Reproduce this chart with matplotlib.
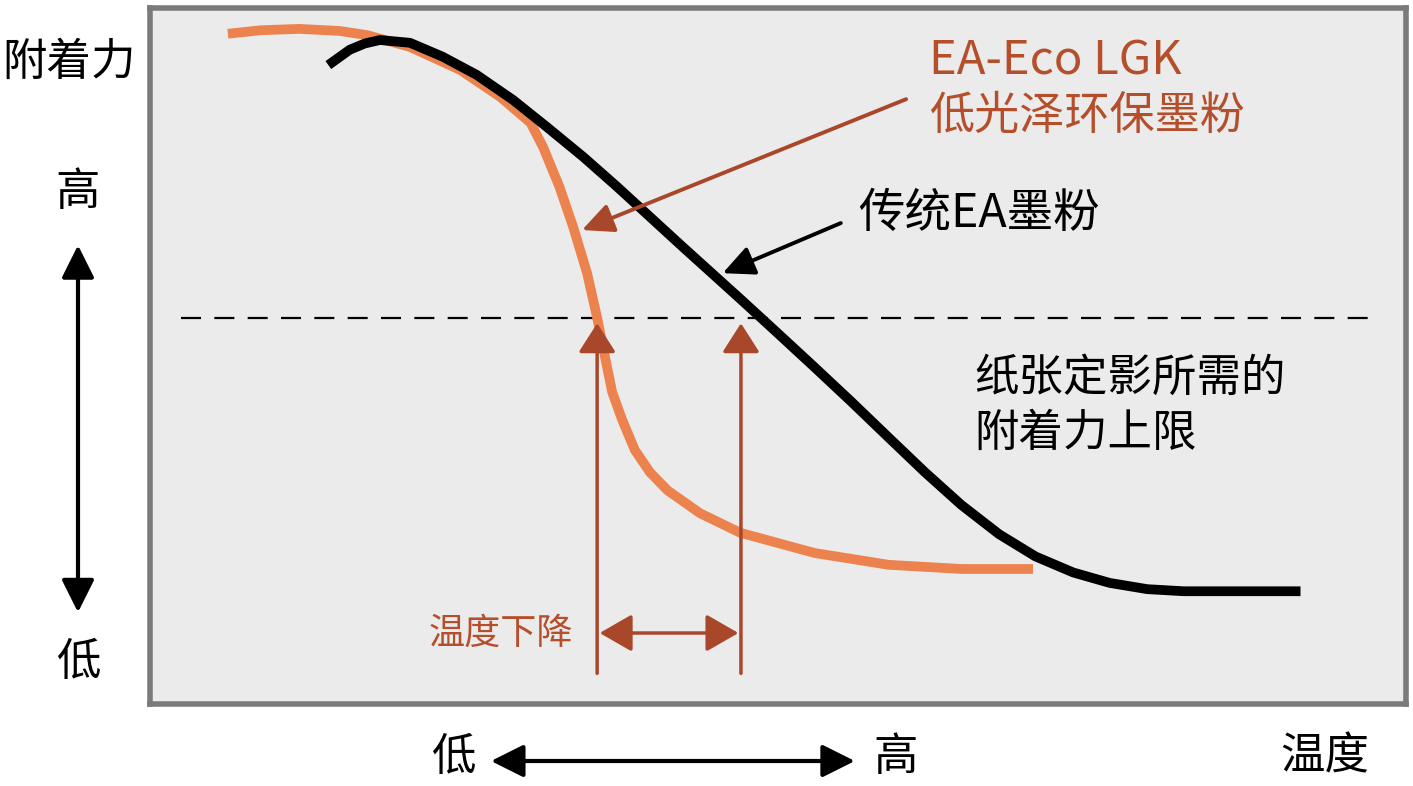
import numpy as np
import matplotlib
matplotlib.use("Agg")
import matplotlib.pyplot as plt
from matplotlib.patches import FancyArrowPatch

plt.rcParams['font.family'] = ['Noto Sans CJK SC', 'DejaVu Sans']

# Curvas (temperatura 0-100, adesão 0-100)
temp_lgk = [6.2, 8.8, 11.9, 15.1, 17.3, 20.7, 24.7, 27.9, 30.3, 31.3, 32.6,
            33.7, 34.8, 35.6, 36.2, 36.8, 37.6, 38.6, 39.8, 41.2, 43.8, 47.0,
            52.9, 58.8, 64.6, 70.3]
ades_lgk = [96.3, 96.8, 97.0, 96.7, 96.1, 94.4, 91.1, 87.2, 83.5, 80.0, 74.3,
            68.5, 61.9, 55.5, 50.1, 44.8, 40.8, 36.5, 33.3, 30.7, 27.4, 24.6,
            21.7, 20.0, 19.4, 19.4]

temp_ea = [14.2, 15.9, 17.1, 18.3, 20.7, 23.3, 26.0, 28.9, 31.6, 34.5, 37.2,
           39.8, 42.4, 45.1, 47.0, 49.9, 52.9, 55.8, 58.8, 61.7, 64.6, 67.6,
           70.5, 73.5, 76.4, 79.4, 82.3, 91.6]
ades_ea = [91.8, 94.0, 94.9, 95.4, 95.0, 93.0, 90.4, 86.8, 82.9, 78.6, 74.3,
           70.0, 65.7, 61.3, 58.2, 53.4, 48.4, 43.5, 38.3, 33.3, 28.6, 24.4,
           21.2, 18.9, 17.4, 16.5, 16.2, 16.2]

limite_ades = 55.5
temp_limite = [2.5, 97.5]
temp_fix = [35.6, 47.05]   # temperaturas de fixação (LGK, EA)

COR_LGK = "#EC834E"
COR_SETA = "#A9472A"
COR_TEXTO = "#B54F2B"


def seta(ax, p0, p1, cor, lw, estilo, hl, hw):
    ax.add_patch(FancyArrowPatch(
        p0, p1, arrowstyle=f"{estilo},head_length={hl},head_width={hw}",
        color=cor, lw=lw, shrinkA=0, shrinkB=0, mutation_scale=1, zorder=6))


fig = plt.figure(figsize=(14.13, 7.86), dpi=100)
ax = fig.add_axes([150 / 1413, 1 - 704 / 786, 1256 / 1413, 696 / 786])
ax.set_facecolor("#EBEBEB")
for s in ax.spines.values():
    s.set_color("#7B7B7B")
    s.set_linewidth(4)
ax.set_xlim(0, 100)
ax.set_ylim(0, 100)
ax.set_xticks([])
ax.set_yticks([])

ax.plot(temp_limite, [limite_ades, limite_ades], color="black", lw=1.6,
        dashes=(9, 6), zorder=2)
ax.plot(temp_lgk, ades_lgk, color=COR_LGK, lw=7, solid_capstyle="butt",
        solid_joinstyle="round", zorder=3)
ax.plot(temp_ea, ades_ea, color="black", lw=7, solid_capstyle="butt",
        solid_joinstyle="round", zorder=4)

# setas verticais até o limite
for t in temp_fix:
    seta(ax, (t, 4.4), (t, 54.7), COR_SETA, 2.5, "-|>", 18, 11.5)
seta(ax, (temp_fix[0] + 0.2, 10.2), (temp_fix[1] - 0.2, 10.2), COR_SETA,
     2.5, "<|-|>", 20, 11.5)
ax.text(33.7, 10.1, "温度下降", color=COR_TEXTO, fontsize=26,
        ha="right", va="center")

# rótulos das curvas
seta(ax, (60.2, 86.9), (34.4, 68.1), COR_SETA, 2.8, "-|>", 19, 9)
seta(ax, (55.0, 69.1), (45.6, 61.9), "black", 2.8, "-|>", 19, 9)
ax.text(62.0, 92.4, "EA-Eco LGK", color=COR_TEXTO, fontsize=34,
        ha="left", va="center")
ax.text(62.0, 84.5, "低光泽环保墨粉", color=COR_TEXTO, fontsize=32.5,
        ha="left", va="center")
ax.text(56.4, 70.5, "传统EA墨粉", color="black", fontsize=33.5,
        ha="left", va="center")
ax.text(65.6, 46.8, "纸张定影所需的", color="black", fontsize=32,
        ha="left", va="center")
ax.text(65.6, 38.9, "附着力上限", color="black", fontsize=32,
        ha="left", va="center")

# eixos desenhados fora da caixa
fig.text(0.002, 0.921, "附着力", fontsize=32, ha="left", va="center")
fig.text(0.0552, 0.756, "高", fontsize=32, ha="center", va="center")
fig.text(0.0552, 0.158, "低", fontsize=32, ha="center", va="center")
fig.text(0.3206, 0.037, "低", fontsize=32, ha="center", va="center")
fig.text(0.634, 0.037, "高", fontsize=32, ha="center", va="center")
fig.text(0.9377, 0.037, "温度", fontsize=32, ha="center", va="center")

for p0, p1 in [((0.0552, 0.221), (0.0552, 0.688)),
               ((0.3475, 0.0318), (0.605, 0.0318))]:
    fig.add_artist(FancyArrowPatch(
        p0, p1, transform=fig.transFigure,
        arrowstyle="<|-|>,head_length=20,head_width=10",
        color="black", lw=3, shrinkA=0, shrinkB=0, mutation_scale=1))

fig.savefig("out.png", dpi=100)
